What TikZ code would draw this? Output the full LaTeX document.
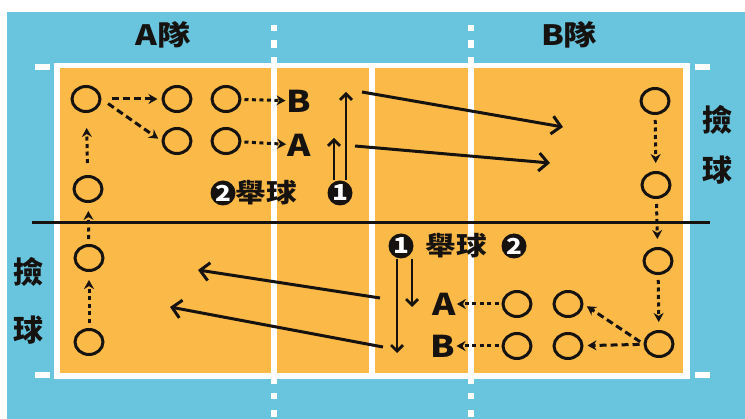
\documentclass[tikz,border=0pt]{standalone}
\usepackage{fontspec}
\setmainfont{Noto Sans CJK TC}[FakeStretch=1.18]
\newfontfamily\sidefont{Noto Sans CJK TC}
\usetikzlibrary{arrows,arrows.meta,shapes.geometric}

\definecolor{courtblue}{RGB}{104,197,221}
\definecolor{courtorange}{RGB}{251,186,72}
\definecolor{ink}{RGB}{22,18,16}

\begin{document}
\begin{tikzpicture}[x=1pt,y=-1pt,>={Stealth[length=9pt,width=10pt]},
                    line cap=butt]

  \tikzstyle{player}=[ellipse,draw=ink,line width=3pt,minimum width=28pt,
                      minimum height=25pt,inner sep=0pt]
  \tikzstyle{hit}=[text=ink,inner sep=0pt,font=\bfseries\fontsize{30pt}{30pt}\selectfont]
  \tikzstyle{team}=[text=ink,inner sep=0pt,font=\bfseries\fontsize{28pt}{28pt}\selectfont]
  \tikzstyle{side}=[text=ink,inner sep=0pt,font=\sidefont\bfseries\fontsize{30pt}{30pt}\selectfont]
  \tikzstyle{word}=[text=ink,inner sep=0pt,font=\bfseries\fontsize{26pt}{26pt}\selectfont]
  \tikzstyle{setter}=[circle,fill=ink,text=white,inner sep=0pt,minimum size=25pt,
                      font=\bfseries\fontsize{22pt}{22pt}\selectfont]
  \tikzstyle{pass}=[->,draw=ink,line width=3pt,dash pattern=on 7pt off 4pt,
                    shorten <=4pt,shorten >=4pt]
  \tikzstyle{move}=[->,draw=ink,line width=3pt,dash pattern=on 4pt off 3.5pt,
                    shorten <=5pt,shorten >=8pt]
  \tikzstyle{toss}=[-{Straight Barb[length=6pt,width=12pt]},draw=ink,line width=2.8pt]
  \tikzstyle{spike}=[-{Straight Barb[length=9pt,width=18pt]},draw=ink,line width=3pt]

  \useasboundingbox (0,0) rectangle (745,419);

  % court
  \fill[white] (0,0) rectangle (745,419);
  \fill[courtblue] (7,12) rectangle (745,419);
  \fill[white] (54,63) rectangle (690,379);
  \fill[courtorange] (60,68) rectangle (683,373);
  \foreach \x in {274,372,471}
    \fill[white] (\x-3,63) rectangle (\x+3,379);
  \foreach \x in {274,471} {
    \fill[white] (\x-3,25) rectangle (\x+3,31);
    \fill[white] (\x-3,40) rectangle (\x+3,48);
    \fill[white] (\x-3,57) rectangle (\x+3,63);
    \fill[white] (\x-3,379) rectangle (\x+3,384);
    \fill[white] (\x-3,393) rectangle (\x+3,399);
    \fill[white] (\x-3,410) rectangle (\x+3,417);
  }
  \foreach \x in {35,695}
    \foreach \y in {64,372}
      \fill[white] (\x,\y) rectangle +(15,6);
  \draw[ink,line width=3pt] (32,223) -- (710,223);

  % labels
  \node[team] (TEAMA) at (163,35) {A隊};
  \node[team] (TEAMB) at (569,35) {B隊};
  \node[side] (PICKR1) at (717,120) {撿};
  \node[side] (PICKR2) at (717,170) {球};
  \node[side] (PICKL1) at (28,272) {撿};
  \node[side] (PICKL2) at (28,330) {球};

  % team A
  \node[player] (A1) at (86,99)   {};
  \node[player] (A2) at (177,99)  {};
  \node[player] (A3) at (226,99)  {};
  \node[player] (A4) at (177,141) {};
  \node[player] (A5) at (226,141) {};
  \node[player] (A6) at (88,189)  {};
  \node[player] (A7) at (89,258)  {};
  \node[player] (A8) at (89,342)  {};
  \node[hit]    (HB) at (299,101) {B};
  \node[hit]    (HA) at (299,145) {A};
  \node[setter] (S2) at (223,193) {2};
  \node[word]   (SW) at (266,193) {舉球};
  \node[setter] (S1) at (340,193) {1};

  % team B
  \node[player] (B1) at (655,101) {};
  \node[player] (B2) at (656,185) {};
  \node[player] (B3) at (658,261) {};
  \node[player] (B4) at (659,344) {};
  \node[player] (B5) at (568,346) {};
  \node[player] (B6) at (568,304) {};
  \node[player] (B7) at (517,346) {};
  \node[player] (B8) at (517,304) {};
  \node[hit]    (RA) at (444,304) {A};
  \node[hit]    (RB) at (443,346) {B};
  \node[setter] (T1) at (401,246) {1};
  \node[word]   (TW) at (456,246) {舉球};
  \node[setter] (T2) at (514,246) {2};

  \coordinate (U1) at (346,92);
  \coordinate (U2) at (334,138);
  \coordinate (D1) at (397,353);
  \coordinate (D2) at (412,307);
  \coordinate (K1s) at (362,92);   \coordinate (K1e) at (563,127);
  \coordinate (K2s) at (355,146);  \coordinate (K2e) at (550,163);
  \coordinate (K3s) at (380,298);  \coordinate (K3e) at (198,270);
  \coordinate (K4s) at (383,347);  \coordinate (K4e) at (170,307);

  \path
  (A1) edge [pass,shorten <=10pt] (A2)
  (A1.east) edge [pass,shorten <=8pt] (A4.west)
  (A3) edge [move,shorten <=3pt,shorten >=1pt] (HB)
  (A5) edge [move,shorten <=3pt,shorten >=1pt] (HA)
  (A6) edge [move,shorten <=12pt,shorten >=15pt] (A1)
  (A7) edge [move] (A6)
  (A8) edge [move] (A7)

  (B1) edge [move] (B2)
  (B2) edge [move] (B3)
  (B3) edge [move] (B4)
  (B4) edge [pass] (B5)
  (B4.west) edge [pass] (B6.east)
  (B7) edge [move,shorten <=3pt,shorten >=1pt] (RB)
  (B8) edge [move,shorten <=3pt,shorten >=1pt] (RA)
  ;

  \draw[toss] (S1.north -| U1) -- (U1);
  \draw[toss] (S1.north -| U2) -- (U2);
  \draw[toss] (T1.south -| D1) -- (D1);
  \draw[toss] (T1.south -| D2) -- (D2);
  \draw[spike] (K1s) -- (K1e);
  \draw[spike] (K2s) -- (K2e);
  \draw[spike] (K3s) -- (K3e);
  \draw[spike] (K4s) -- (K4e);
\end{tikzpicture}
\end{document}
